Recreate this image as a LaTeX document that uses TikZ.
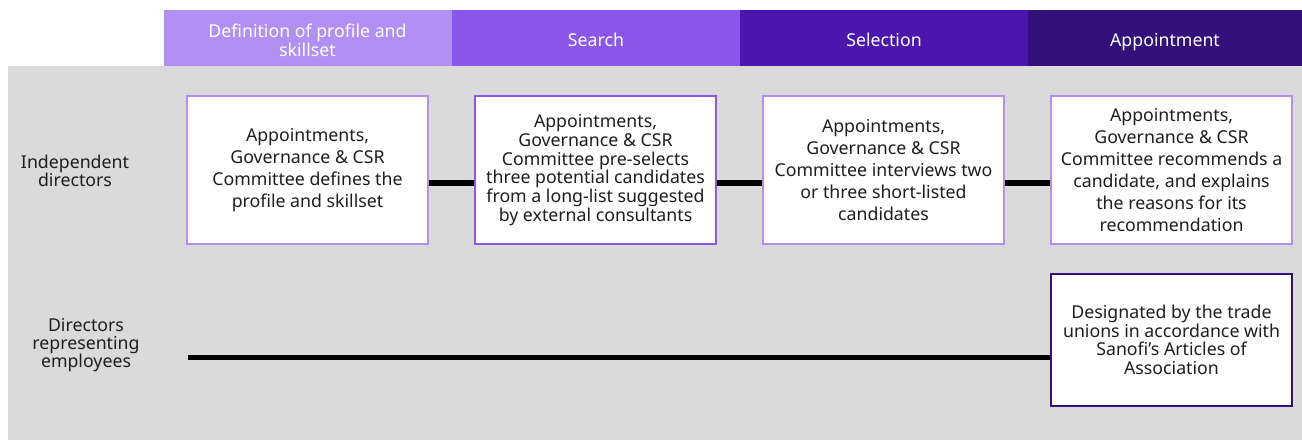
\documentclass[tikz,border=0pt]{standalone}
\usepackage{fontspec}
\setmainfont{Noto Sans}
\definecolor{lilac}{HTML}{B18FF3}
\definecolor{violet}{HTML}{8B57EB}
\definecolor{indigo}{HTML}{4A16AD}
\definecolor{night}{HTML}{33107A}
\definecolor{panel}{HTML}{DADADA}
\definecolor{ink}{HTML}{1E1E1E}
\begin{document}
\begin{tikzpicture}[x=0.75pt, y=-0.75pt,
    phase/.style={fill=#1, text=white, minimum width=216pt, minimum height=42pt,
      inner sep=0pt, align=center, font=\fontsize{13.3}{14.2}\selectfont},
    oneline/.style={text height=16pt, text depth=3.4pt},
    stepbox/.style={draw=#1, fill=white, line width=1.5pt, minimum width=180.75pt,
      minimum height=111pt, align=center, text=ink, inner sep=1pt,
      font=\fontsize{13.3}{16.4}\selectfont},
    tight/.style={font=\fontsize{13.3}{14}\selectfont},
    rowlabel/.style={align=center, text=ink, font=\fontsize{13.3}{13.6}\selectfont},
    link/.style={line width=3.75pt, black}]
    \useasboundingbox (0,0) rectangle (1302,442);

    % Background panel
    \fill[panel] (8,66) rectangle (1302,440);

    % Phases
    \node[phase=lilac] (define) at (307.5,38) {\rule{0pt}{13pt}Definition of profile and\\skillset};
    \node[phase=violet, oneline] (search) at (596,38) {Search};
    \node[phase=indigo, oneline] (select) at (884,38) {Selection};
    \node[phase=night, oneline, minimum width=205.5pt] (appoint) at (1165,38) {Appointment};

    % Row labels
    \node[rowlabel] (indep) at (75,171) {Independent\\directors};
    \node[rowlabel] (employ) at (86,345) {Directors\\representing\\employees};

    % Independent directors
    \node[stepbox=lilac] (profile) at (307.5,170)
      {Appointments,\\Governance \& CSR\\Committee defines the\\profile and skillset};
    \node[stepbox=violet, tight] (shortlist) at (595.5,170)
      {Appointments,\\Governance \& CSR\\Committee pre-selects\\three potential candidates\\from a long-list suggested\\by external consultants};
    \node[stepbox=lilac] (interview) at (883.5,170)
      {Appointments,\\Governance \& CSR\\Committee interviews two\\or three short-listed\\candidates};
    \node[stepbox=lilac] (recommend) at (1171.5,170)
      {Appointments,\\Governance \& CSR\\Committee recommends a\\candidate, and explains\\the reasons for its\\recommendation};

    % Directors representing employees
    \node[stepbox=night, tight, minimum height=99pt] (unions) at (1171.5,340)
      {Designated by the trade\\unions in accordance with\\Sanofi’s Articles of\\Association};

    % Connectors
    \coordinate (rowA) at (0,183);
    \coordinate (rowB) at (188,357);
    \draw[link] (profile.east |- rowA) -- (shortlist.west |- rowA);
    \draw[link] (shortlist.east |- rowA) -- (interview.west |- rowA);
    \draw[link] (interview.east |- rowA) -- (recommend.west |- rowA);
    \draw[link] (rowB) -- (rowB -| unions.west);
\end{tikzpicture}
\end{document}
